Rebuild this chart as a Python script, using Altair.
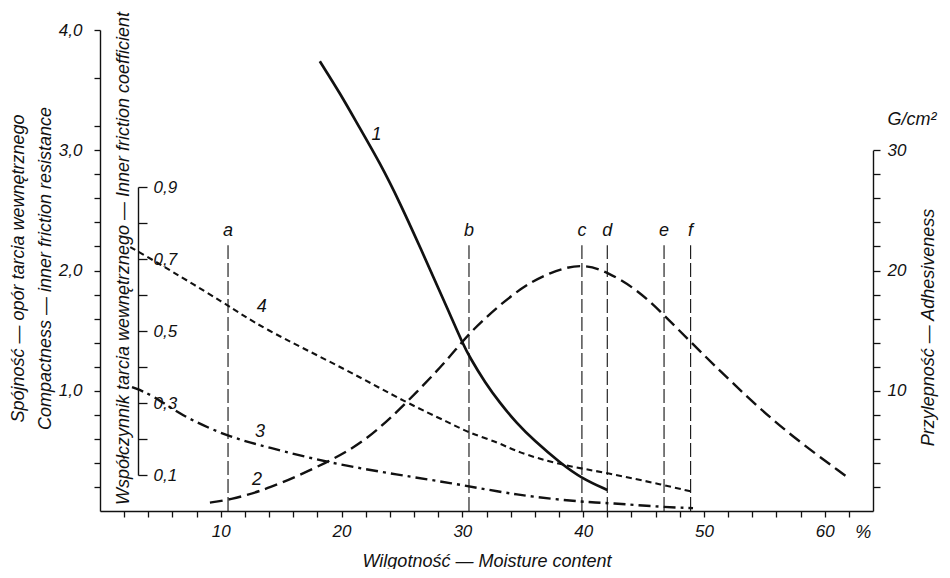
import altair as alt
import pandas as pd

# ---------------- data ----------------
# Curve 1 - compactness (left axis, 0-4)
c1_x = [18.2, 19.9, 21.5, 23.2, 24.8, 26.5, 28.2, 29.0, 30.0, 30.6, 31.9, 33.1, 34.5, 35.9, 38.1, 39.9, 42.0]
c1_y = [3.74, 3.47, 3.185, 2.89, 2.57, 2.195, 1.81, 1.63, 1.40, 1.28, 1.065, 0.90, 0.73, 0.59, 0.40, 0.27, 0.175]

# Curve 2 - adhesiveness (right axis, G/cm2)
c2_x = [9.1, 10.6, 13.8, 19.0, 22.1, 25.4, 29.0, 30.6, 34.5, 37.3, 39.9, 42.0, 44.5, 46.7, 48.9, 52.4, 56.6, 61.9]
c2_y = [0.7, 0.9, 1.75, 4.1, 5.9, 9.0, 12.8, 14.9, 18.4, 19.9, 20.6, 19.9, 18.4, 16.3, 14.05, 10.6, 6.7, 2.8]

# Curve 3 - inner friction coefficient (dash-dot)
c3_x = [2.65, 4.4, 6.6, 10.6, 13.8, 19.0, 24.8, 29.0, 33.1, 35.9, 40.0, 42.2, 46.6, 49.1]
c3_y = [0.344, 0.322, 0.267, 0.206, 0.178, 0.133, 0.100, 0.078, 0.053, 0.039, 0.025, 0.022, 0.011, 0.008]

# Curve 4 - inner friction coefficient (short dashes)
c4_x = [2.5, 4.1, 10.6, 13.25, 20.45, 25.4, 29.0, 30.55, 33.1, 34.5, 38.1, 42.0, 46.7, 49.1]
c4_y = [0.733, 0.703, 0.572, 0.511, 0.392, 0.300, 0.244, 0.217, 0.189, 0.164, 0.128, 0.106, 0.072, 0.053]

# Vertical reference lines a-f
v_labels = ["a", "b", "c", "d", "e", "f"]
v_x = [10.6, 30.55, 39.9, 42.0, 46.7, 48.9]
v_top = [2.21] * 6
v_label_y = [2.33] * 6

# Curve number labels (positions in left-axis units)
cl_text = ["1", "2", "3", "4"]
cl_x = [22.9, 13.0, 13.25, 13.4]
cl_y = [3.13, 0.26, 0.66, 1.70]

# Ticks
x_ticks = list(range(2, 63, 2))
left_ticks = [round(0.2 * i, 1) for i in range(1, 17)] + [3.6, 4.0]
coef_ticks = [round(0.1 * i, 1) for i in range(1, 10)]
right_ticks = list(range(2, 31, 2))

left_title = ["Spójność — opór tarcia wewnętrznego", "Compactness — inner friction resistance"]
coef_title = "Współczynnik tarcia wewnętrznego — Inner friction coefficient"
right_title = "Przylepność — Adhesiveness"
x_title = "Wilgotność — Moisture content"
unit_text = ["G/cm²"]
unit_x = [65.2]
unit_y = [32.5]
pct_text = ["%"]
pct_x = [63.2]
pct_y = [-0.18]

# ---------------- styling ----------------
FT = "Liberation Sans"
INK = "#111111"

XS = alt.Scale(domain=[0, 64], nice=False, zero=False)
YC = alt.Scale(domain=[0, 4], nice=False, zero=False)
YK = alt.Scale(domain=[0.1, 0.9], range=[445, 157], nice=False, zero=False)
YA = alt.Scale(domain=[0, 30], range=[481, 120.25], nice=False, zero=False)

common_axis = dict(
    grid=False, domainColor=INK, tickColor=INK, labelColor=INK, titleColor=INK,
    labelFont=FT, labelFontSize=17, labelFontStyle="italic",
    titleFont=FT, titleFontSize=18, titleFontStyle="italic", titleFontWeight="normal",
    domainWidth=1.4, tickWidth=1.3, labelOverlap=False,
)

x_axis = alt.Axis(
    values=x_ticks, labelExpr="datum.value % 10 == 0 ? datum.label : ''",
    tickSize=6, labelPadding=6, labelAngle=0, title=x_title,
    titleY=50, titleBaseline="middle", **common_axis)

left_axis = alt.Axis(
    orient="left", values=left_ticks,
    labelExpr="(abs(datum.value - round(datum.value)) < 0.01 && datum.value > 0) ? replace(format(datum.value, '.1f'), '.', ',') : ''",
    tickSize=6, labelPadding=12, title=left_title, titleAngle=270,
    titleX=-73, titleY=238, titleAlign="center", titleBaseline="bottom",
    titleLineHeight=27, **common_axis)

coef_axis = alt.Axis(
    orient="right", offset=-735, values=coef_ticks,
    labelExpr="(round(datum.value * 10) % 2 == 1) ? replace(format(datum.value, '.1f'), '.', ',') : ''",
    tickSize=9, labelPadding=6, title=coef_title, titleAngle=270,
    titleX=-15, titleY=228, titleAlign="center", titleBaseline="middle", **common_axis)

right_axis = alt.Axis(
    orient="right", values=right_ticks,
    labelExpr="datum.value % 10 == 0 ? datum.label : ''",
    tickSize=7, labelPadding=7, title=right_title, titleAngle=270,
    titleX=55, titleY=297, titleAlign="center", titleBaseline="middle", **common_axis)

df1 = pd.DataFrame({"x": c1_x, "y": c1_y})
df2 = pd.DataFrame({"x": c2_x, "y": c2_y})
df3 = pd.DataFrame({"x": c3_x, "y": c3_y})
df4 = pd.DataFrame({"x": c4_x, "y": c4_y})
dfv = pd.DataFrame({"x": v_x, "y0": [0] * 6, "y1": v_top, "ly": v_label_y, "t": v_labels})
dfl = pd.DataFrame({"x": cl_x, "y": cl_y, "t": cl_text})
dfp = pd.DataFrame({"x": pct_x, "y": pct_y, "t": pct_text})
dfu = pd.DataFrame({"x": unit_x, "y": unit_y, "t": unit_text})

txt = dict(font=FT, fontSize=18, fontStyle="italic", color=INK, baseline="middle")

X = alt.X("x:Q", scale=XS, axis=x_axis)

# Layer A: left scale (compactness)
YCenc = lambda f: alt.Y(f, scale=YC, axis=left_axis)
curve1 = alt.Chart(df1).mark_line(color=INK, strokeWidth=2.7, interpolate="basis").encode(
    x=X, y=YCenc("y:Q"))
vlines = alt.Chart(dfv).mark_rule(color=INK, strokeWidth=1.1, strokeDash=[14, 4]).encode(
    x=X, y=YCenc("y0:Q"), y2="y1:Q")
vtext = alt.Chart(dfv).mark_text(align="center", **txt).encode(
    x=X, y=YCenc("ly:Q"), text="t:N")
ctext = alt.Chart(dfl).mark_text(align="center", **txt).encode(
    x=X, y=YCenc("y:Q"), text="t:N")
ptext = alt.Chart(dfp).mark_text(align="center", **txt).encode(
    x=X, y=YCenc("y:Q"), text="t:N")
layerA = alt.layer(curve1, vlines, vtext, ctext, ptext)

# Layer B: coefficient scale
YKenc = alt.Y("y:Q", scale=YK, axis=coef_axis)
curve3 = alt.Chart(df3).mark_line(color=INK, strokeWidth=2.4, strokeDash=[12, 5, 3, 5], interpolate="basis").encode(
    x=X, y=YKenc)
curve4 = alt.Chart(df4).mark_line(color=INK, strokeWidth=2.1, strokeDash=[6, 4], interpolate="basis").encode(
    x=X, y=YKenc)
layerB = alt.layer(curve3, curve4)

# Layer C: adhesiveness scale
YAenc = alt.Y("y:Q", scale=YA, axis=right_axis)
curve2 = alt.Chart(df2).mark_line(color=INK, strokeWidth=2.4, strokeDash=[13, 6], interpolate="basis").encode(
    x=X, y=YAenc)
utext = alt.Chart(dfu).mark_text(align="left", **txt).encode(
    x=X, y=YAenc, text="t:N")
layerC = alt.layer(curve2, utext)

chart = alt.layer(layerA, layerB, layerC).resolve_scale(y="independent").properties(
    width=773, height=481,
    autosize=alt.AutoSizeParams(type="none"),
    padding={"left": 92, "top": 22, "right": 69, "bottom": 58},
    background="white",
).configure_view(stroke=None)

chart.save("out.html", embed_options={"renderer": "svg", "actions": False})
